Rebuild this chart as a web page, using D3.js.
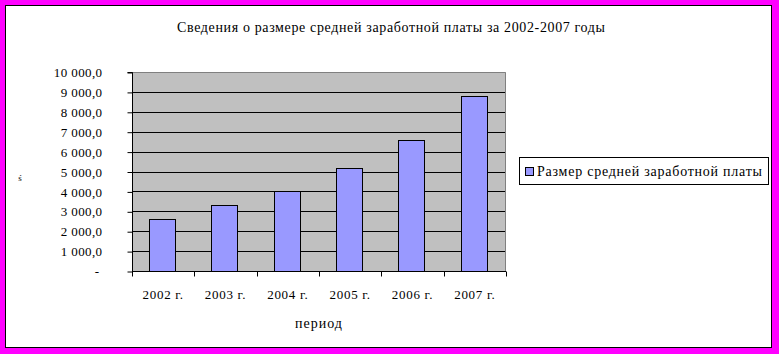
<html>
<head>
    <meta charset="UTF-8">
    <script src="https://cdn.jsdelivr.net/npm/d3@7"></script>
    <style>
        body { margin: 0; background: #ffffff; }
    </style>
</head>
<body>
    <div id="container"></div>
    <script type="text/javascript">
        // данные
        const years = ['2002 г.', '2003 г.', '2004 г.', '2005 г.', '2006 г.', '2007 г.']
        const salary = [2630, 3300, 4000, 5160, 6570, 8800]
        const yTicks = [0, 1000, 2000, 3000, 4000, 5000, 6000, 7000, 8000, 9000, 10000]
        const seriesName = 'Размер средней заработной платы'
        const title = 'Сведения о размере средней заработной платы за 2002-2007 годы'

        const width = 779, height = 354
        const plot = { left: 132, top: 72, right: 506, bottom: 271 }
        const serif = '"Liberation Serif", "Times New Roman", "DejaVu Serif", serif'

        const svg = d3.select('#container').append('svg')
            .attr('width', width).attr('height', height)
            .style('font-family', serif)

        // рамка
        svg.append('rect').attr('x', 0).attr('y', 0).attr('width', width).attr('height', height)
            .attr('fill', '#ff00ff')
        svg.append('rect').attr('x', 5.5).attr('y', 5.5).attr('width', 766).attr('height', 342)
            .attr('fill', '#ffffff').attr('stroke', '#000').attr('stroke-width', 1)

        const x = d3.scaleBand().domain(years).range([plot.left, plot.right])
            .paddingInner(0.58).paddingOuter(0.29)
        const xTicksScale = d3.scaleBand().domain(years).range([plot.left, plot.right])
        const y = d3.scaleLinear().domain([0, 10000]).range([plot.bottom, plot.top])

        // фон области построения
        svg.append('rect')
            .attr('x', plot.left).attr('y', plot.top)
            .attr('width', plot.right - plot.left).attr('height', plot.bottom - plot.top)
            .attr('fill', '#c0c0c0')

        // сетка
        svg.append('g').selectAll('line').data(yTicks.slice(1, -1)).enter().append('line')
            .attr('x1', plot.left).attr('x2', plot.right)
            .attr('y1', d => Math.round(y(d)) + 0.5).attr('y2', d => Math.round(y(d)) + 0.5)
            .attr('stroke', '#000').attr('stroke-width', 1)

        // верх и право области серые
        svg.append('path')
            .attr('d', `M${plot.left},${plot.top + 0.5}H${plot.right - 0.5}V${plot.bottom}`)
            .attr('fill', 'none').attr('stroke', '#808080').attr('stroke-width', 1)

        // столбцы
        svg.append('g').selectAll('rect').data(salary).enter().append('rect')
            .attr('x', (d, i) => Math.round(x(years[i])) - 0.5)
            .attr('y', d => Math.round(y(d)) + 0.5)
            .attr('width', Math.round(x.bandwidth()))
            .attr('height', d => plot.bottom - Math.round(y(d)))
            .attr('fill', '#9999ff').attr('stroke', '#000').attr('stroke-width', 1)

        // ось Y
        const yAxis = d3.axisLeft(y).tickValues(yTicks).tickSize(5).tickPadding(25)
            .tickFormat(d => d === 0 ? '-' : d3.format(',.1f')(d).replace(/,/g, ' ').replace('.', ','))
        const gy = svg.append('g').attr('transform', `translate(${plot.left + 0.5},0.5)`).call(yAxis)
        gy.attr('font-family', null).attr('font-size', null)
        gy.select('.domain').attr('d', `M-5,${plot.top}H0V${plot.bottom}`).attr('stroke', '#000')
        gy.selectAll('text').style('font-size', '13px').style('font-family', serif)
            .style('letter-spacing', '0.4px').attr('dx', 0)
        gy.selectAll('.tick').filter(d => d === 0).select('text').attr('dx', -3)

        // ось X
        const xAxis = d3.axisBottom(xTicksScale).tickSize(0).tickPadding(18)
        const gx = svg.append('g').attr('transform', `translate(0,${plot.bottom + 0.5})`).call(xAxis)
        gx.attr('font-family', null).attr('font-size', null)
        gx.select('.domain').attr('d', `M${plot.left},0H${plot.right}`).attr('stroke', '#000')
        gx.selectAll('text').style('font-size', '13px').style('font-family', serif)
            .style('letter-spacing', '0.7px').attr('dy', '0.7em')
        gx.append('g').selectAll('line')
            .data(years.map(d => xTicksScale(d)).concat([plot.right])).enter().append('line')
            .attr('x1', d => Math.round(d) + 0.5).attr('x2', d => Math.round(d) + 0.5)
            .attr('y1', 0).attr('y2', 5).attr('stroke', '#000')

        // подписи осей
        svg.append('text').attr('x', (plot.left + plot.right) / 2).attr('y', 328)
            .attr('text-anchor', 'middle').style('font-size', '14px').style('letter-spacing', '1px').text('период')
        svg.append('text').attr('x', 20).attr('y', 181)
            .attr('text-anchor', 'middle').style('font-size', '9px').text('ś')

        // заголовок
        svg.append('text').attr('x', 177).attr('y', 32)
            .attr('textLength', 428).attr('lengthAdjust', 'spacing')
            .style('font-size', '14px').text(title)

        // легенда
        const lg = svg.append('g')
        lg.append('rect').attr('x', 519.5).attr('y', 157.5).attr('width', 249).attr('height', 27)
            .attr('fill', '#fff').attr('stroke', '#000')
        lg.append('rect').attr('x', 525.5).attr('y', 167.5).attr('width', 8).attr('height', 8)
            .attr('fill', '#9999ff').attr('stroke', '#000')
        lg.append('text').attr('x', 537).attr('y', 176).style('font-size', '14px')
            .attr('textLength', 225).attr('lengthAdjust', 'spacing').text(seriesName)
    </script>
</body>
</html>
